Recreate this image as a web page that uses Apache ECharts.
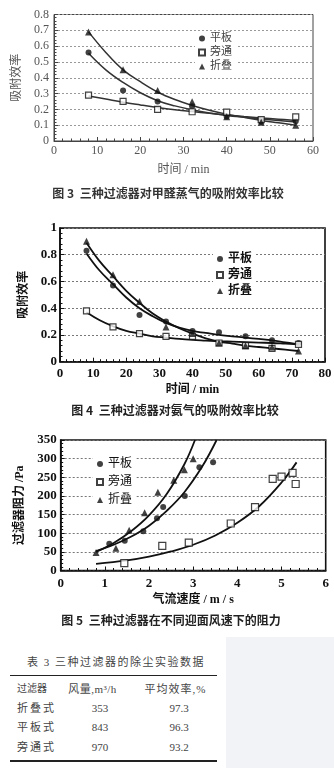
<!DOCTYPE html>
<html><head><meta charset="utf-8">
<script src="https://cdn.jsdelivr.net/npm/echarts@6/dist/echarts.min.js"></script>
<style>
html,body{margin:0;padding:0;background:#fff;width:334px;height:768px;overflow:hidden;}
#chart{position:absolute;left:0;top:0;width:334px;height:636px;}
#gray{position:absolute;left:226px;top:637px;width:108px;height:131px;background:#f1f3f6;}
.t{position:absolute;font-family:"Liberation Serif","Noto Sans CJK SC",serif;color:#444;font-size:11px;white-space:nowrap;line-height:1;}
.rule{position:absolute;left:10px;width:207px;background:#222;}
</style></head>
<body>
<div id="chart"></div>
<div id="gray"></div>
<div id="table"></div>
<script>
// ---------- Figure 3: formaldehyde adsorption efficiency ----------
const fig3Times = [8, 16, 24, 32, 40, 48, 56];
const fig3Flat = [0.56, 0.32, 0.25, 0.22, 0.155, 0.122, 0.125];
const fig3Bypass = [0.29, 0.25, 0.20, 0.185, 0.183, 0.135, 0.153];
const fig3Fold = [0.69, 0.45, 0.32, 0.248, 0.153, 0.118, 0.10];
const fig3CurveX = [8, 12, 16, 20, 24, 28, 32, 36, 40, 44, 48, 52, 56];
const fig3FlatCurve = [0.555, 0.45, 0.37, 0.305, 0.255, 0.222, 0.197, 0.177, 0.162, 0.15, 0.139, 0.129, 0.12];
const fig3BypassCurve = [0.285, 0.265, 0.245, 0.228, 0.212, 0.198, 0.186, 0.175, 0.165, 0.155, 0.146, 0.138, 0.13];
const fig3FoldCurve = [0.69, 0.56, 0.45, 0.375, 0.31, 0.262, 0.225, 0.195, 0.17, 0.15, 0.13, 0.115, 0.10];

// ---------- Figure 4: ammonia adsorption efficiency ----------
const fig4Times = [8, 16, 24, 32, 40, 48, 56, 64, 72];
const fig4Flat = [0.83, 0.57, 0.35, 0.30, 0.23, 0.22, 0.19, 0.16, 0.14];
const fig4Bypass = [0.38, 0.26, 0.21, 0.19, 0.19, 0.14, 0.12, 0.10, 0.13];
const fig4Fold = [0.90, 0.65, 0.45, 0.26, 0.21, 0.14, 0.12, 0.11, 0.08];
const fig4CurveX = [8, 12, 16, 20, 24, 28, 32, 36, 40, 44, 48, 52, 56, 60, 64, 68, 72];
const fig4FlatCurve = [0.81, 0.68, 0.58, 0.48, 0.40, 0.34, 0.29, 0.255, 0.23, 0.215, 0.20, 0.19, 0.18, 0.17, 0.16, 0.145, 0.13];
const fig4BypassCurve = [0.37, 0.31, 0.265, 0.23, 0.21, 0.19, 0.18, 0.17, 0.163, 0.158, 0.153, 0.15, 0.147, 0.143, 0.14, 0.135, 0.13];
const fig4FoldCurve = [0.89, 0.75, 0.64, 0.53, 0.44, 0.36, 0.30, 0.25, 0.21, 0.175, 0.15, 0.135, 0.12, 0.11, 0.10, 0.09, 0.08];

// ---------- Figure 5: resistance vs face velocity ----------
const fig5FlatV = [1.1, 1.45, 1.87, 2.18, 2.32, 2.81, 3.14, 3.45];
const fig5FlatP = [72, 80, 105, 140, 170, 200, 277, 290];
const fig5BypassV = [1.44, 2.3, 2.9, 3.85, 4.4, 4.8, 5.0, 5.25, 5.32];
const fig5BypassP = [20, 66, 75, 126, 170, 246, 252, 262, 232];
const fig5FoldV = [0.8, 1.25, 1.55, 1.9, 2.2, 2.56, 2.8, 3.0];
const fig5FoldP = [48, 60, 108, 155, 210, 242, 270, 300];
const fig5FlatCurveV = [0.8, 1.2, 1.6, 2.0, 2.4, 2.8, 3.2, 3.53];
const fig5FlatCurveP = [52, 69, 91, 120, 160, 210, 278, 350];
const fig5BypassCurveV = [0.8, 1.5, 2.0, 2.5, 3.0, 3.5, 4.0, 4.5, 5.0, 5.34];
const fig5BypassCurveP = [18, 27, 37, 51, 69, 94, 128, 173, 236, 290];
const fig5FoldCurveV = [0.8, 1.2, 1.6, 2.0, 2.4, 2.8, 3.04];
const fig5FoldCurveP = [50, 74, 106, 148, 205, 285, 350];

// ---------- Table 3 ----------
const tableTitle = '表 3 三种过滤器的除尘实验数据';
const tableHeaders = ['过滤器', '风量,m³/h', '平均效率,%'];
const tableFilters = ['折叠式', '平板式', '旁通式'];
const tableFlow = ['353', '843', '970'];
const tableEff = ['97.3', '96.3', '93.2'];

const seriesNames = ['平板', '旁通', '折叠'];
const captions = ['图 3  三种过滤器对甲醛蒸气的吸附效率比较', '图 4  三种过滤器对氨气的吸附效率比较', '图 5  三种过滤器在不同迎面风速下的阻力'];

const pairs = (xs, ys) => xs.map((x, i) => [x, ys[i]]);
const SERIF = '"Liberation Serif","Noto Sans CJK SC",serif';

const symStyles = [
  {symbol: 'circle', itemStyle: {color: '#111'}},
  {symbol: 'rect', itemStyle: {color: '#fff', borderColor: '#111', borderWidth: 1.2}},
  {symbol: 'triangle', itemStyle: {color: '#111'}}
];

function pointSeries(idx, data, k, size) {
  return Object.assign({
    type: 'scatter', name: seriesNames[k], xAxisIndex: idx, yAxisIndex: idx,
    data: data, symbolSize: size, z: 5
  }, JSON.parse(JSON.stringify(symStyles[k])));
}
function curveSeries(idx, data, k, w, color) {
  return {
    type: 'line', name: seriesNames[k] + '拟合' + idx, xAxisIndex: idx, yAxisIndex: idx,
    data: data, smooth: 0.4, symbol: 'none', showSymbol: false, clip: true,
    lineStyle: {color: color, width: w}, z: 3
  };
}

const labelStyles = [
  {fontSize: 12, color: '#555', fontFamily: SERIF},
  {fontSize: 13, color: '#111', fontFamily: SERIF, fontWeight: 'bold'},
  {fontSize: 13, color: '#111', fontFamily: SERIF, fontWeight: 'bold'}
];
const axisColors = ['#444', '#111', '#111'];

function mkX(idx, min, max, interval, name, nameGap, margin, minorSplit) {
  return {
    gridIndex: idx, type: 'value', min: min, max: max, interval: interval,
    name: name, nameLocation: 'middle', nameGap: nameGap,
    nameTextStyle: Object.assign({}, labelStyles[idx], {fontSize: 12}),
    axisLine: {lineStyle: {color: axisColors[idx], width: idx === 0 ? 1 : 1.6}},
    axisTick: {inside: true, length: 4, lineStyle: {color: axisColors[idx], width: 1}},
    minorTick: {show: true, splitNumber: minorSplit, length: 2.5, lineStyle: {color: axisColors[idx], width: 1}},
    axisLabel: Object.assign({margin: margin}, labelStyles[idx]),
    splitLine: {show: false}
  };
}
function mkY(idx, min, max, interval, name, nameGap, margin, minorSplit) {
  return {
    gridIndex: idx, type: 'value', min: min, max: max, interval: interval,
    name: name, nameLocation: 'middle', nameGap: nameGap, nameRotate: 90,
    nameTextStyle: Object.assign({}, labelStyles[idx], {fontSize: 12}),
    axisLine: {lineStyle: {color: axisColors[idx], width: idx === 0 ? 1 : 1.6}},
    axisTick: {inside: true, length: 4, lineStyle: {color: axisColors[idx], width: 1}},
    minorTick: {show: true, splitNumber: minorSplit, length: 2.5, lineStyle: {color: axisColors[idx], width: 1}},
    axisLabel: Object.assign({margin: margin}, labelStyles[idx]),
    splitLine: {show: true, lineStyle: {type: [2, 2], color: idx === 0 ? '#999' : '#777', width: 1}}
  };
}

const chart = echarts.init(document.getElementById('chart'), null, {renderer: 'canvas'});
chart.setOption({
  backgroundColor: '#fff',
  animation: false,
  grid: [
    {left: 54, top: 14.5, width: 259, height: 126.5, show: true, borderColor: '#444', borderWidth: 1, outerBoundsMode: 'none'},
    {left: 60, top: 228, width: 265, height: 133.7, show: true, borderColor: '#111', borderWidth: 1.6, outerBoundsMode: 'none'},
    {left: 60.7, top: 440, width: 265, height: 130.5, show: true, borderColor: '#111', borderWidth: 1.6, outerBoundsMode: 'none'}
  ],
  xAxis: [
    mkX(0, 0, 60, 10, '时间 / min', 23, 4, 5),
    mkX(1, 0, 80, 10, '时间 / min', 22, 5, 5),
    mkX(2, 0, 6, 1, '气流速度 / m / s', 23, 7, 5)
  ],
  yAxis: [
    mkY(0, 0, 0.8, 0.1, '吸附效率', 28, 5, 5),
    mkY(1, 0, 1, 0.2, '吸附效率', 29, 3, 5),
    mkY(2, 0, 350, 50, '过滤器阻力 /Pa', 27, 4, 5)
  ],
  legend: [
    {orient: 'vertical', left: 195, top: 31, itemWidth: 6, itemHeight: 6, itemGap: 3, padding: [2, 4, 2, 3],
     backgroundColor: '#fff', selectedMode: false, data: seriesNames,
     textStyle: {fontSize: 11, color: '#444', fontFamily: SERIF}},
    {orient: 'vertical', left: 213, top: 251, itemWidth: 6, itemHeight: 6, itemGap: 4, padding: [2, 4, 2, 3],
     backgroundColor: '#fff', selectedMode: false, data: seriesNames,
     textStyle: {fontSize: 12, color: '#111', fontFamily: SERIF, fontWeight: 'bold'}},
    {orient: 'vertical', left: 93, top: 456, itemWidth: 6, itemHeight: 6, itemGap: 6, padding: [2, 4, 2, 3],
     backgroundColor: '#fff', selectedMode: false, data: seriesNames,
     textStyle: {fontSize: 12, color: '#111', fontFamily: SERIF}}
  ],
  graphic: [
    {type: 'text', x: 168, y: 193, style: {text: captions[0], fill: '#333', font: 'bold 12px "Noto Sans CJK SC"', align: 'center', verticalAlign: 'middle'}},
    {type: 'text', x: 175, y: 410.7, style: {text: captions[1], fill: '#222', font: 'bold 12px "Noto Sans CJK SC"', align: 'center', verticalAlign: 'middle'}},
    {type: 'text', x: 171, y: 620, style: {text: captions[2], fill: '#222', font: 'bold 12px "Noto Sans CJK SC"', align: 'center', verticalAlign: 'middle'}}
  ],
  series: [
    curveSeries(0, pairs(fig3CurveX, fig3FlatCurve), 0, 1.5, '#333'),
    curveSeries(0, pairs(fig3CurveX, fig3BypassCurve), 1, 1.5, '#333'),
    curveSeries(0, pairs(fig3CurveX, fig3FoldCurve), 2, 1.5, '#333'),
    pointSeries(0, pairs(fig3Times, fig3Flat), 0, 6),
    pointSeries(0, pairs(fig3Times, fig3Bypass), 1, 6),
    pointSeries(0, pairs(fig3Times, fig3Fold), 2, 7),

    curveSeries(1, pairs(fig4CurveX, fig4FlatCurve), 0, 1.8, '#111'),
    curveSeries(1, pairs(fig4CurveX, fig4BypassCurve), 1, 1.8, '#111'),
    curveSeries(1, pairs(fig4CurveX, fig4FoldCurve), 2, 1.8, '#111'),
    pointSeries(1, pairs(fig4Times, fig4Flat), 0, 6),
    pointSeries(1, pairs(fig4Times, fig4Bypass), 1, 6),
    pointSeries(1, pairs(fig4Times, fig4Fold), 2, 7),

    curveSeries(2, pairs(fig5FlatCurveV, fig5FlatCurveP), 0, 1.8, '#111'),
    curveSeries(2, pairs(fig5BypassCurveV, fig5BypassCurveP), 1, 1.8, '#111'),
    curveSeries(2, pairs(fig5FoldCurveV, fig5FoldCurveP), 2, 1.8, '#111'),
    pointSeries(2, pairs(fig5FlatV, fig5FlatP), 0, 6),
    pointSeries(2, pairs(fig5BypassV, fig5BypassP), 1, 7),
    pointSeries(2, pairs(fig5FoldV, fig5FoldP), 2, 7)
  ]
});

// ---------- table (HTML) ----------
(function () {
  const box = document.getElementById('table');
  function put(text, x, y, align, extra) {
    const d = document.createElement('div');
    d.className = 't';
    d.textContent = text;
    d.style.top = (y - 5.5) + 'px';
    if (align === 'center') { d.style.left = x + 'px'; d.style.transform = 'translateX(-50%)'; }
    else d.style.left = x + 'px';
    if (extra) Object.assign(d.style, extra);
    box.appendChild(d);
  }
  put(tableTitle, 116, 662, 'center', {letterSpacing: '1.5px'});
  const r1 = document.createElement('div'); r1.className = 'rule';
  r1.style.top = '674.5px'; r1.style.height = '1.3px'; box.appendChild(r1);
  put(tableHeaders[0], 17, 689.5, 'left', {letterSpacing: '0px', fontSize: '10px'});
  put(tableHeaders[1], 92.5, 689.5, 'center', {letterSpacing: '0.5px'});
  put(tableHeaders[2], 175.5, 689.5, 'center', {letterSpacing: '1px'});
  const rowsY = [708.5, 727.5, 747];
  for (let i = 0; i < tableFilters.length; i++) {
    put(tableFilters[i], 17, rowsY[i], 'left', {letterSpacing: '2px'});
    put(tableFlow[i], 100, rowsY[i], 'center');
    put(tableEff[i], 179, rowsY[i], 'center');
  }
  const r2 = document.createElement('div'); r2.className = 'rule';
  r2.style.top = '759.5px'; r2.style.height = '2px'; box.appendChild(r2);
})();
</script>
</body></html>
